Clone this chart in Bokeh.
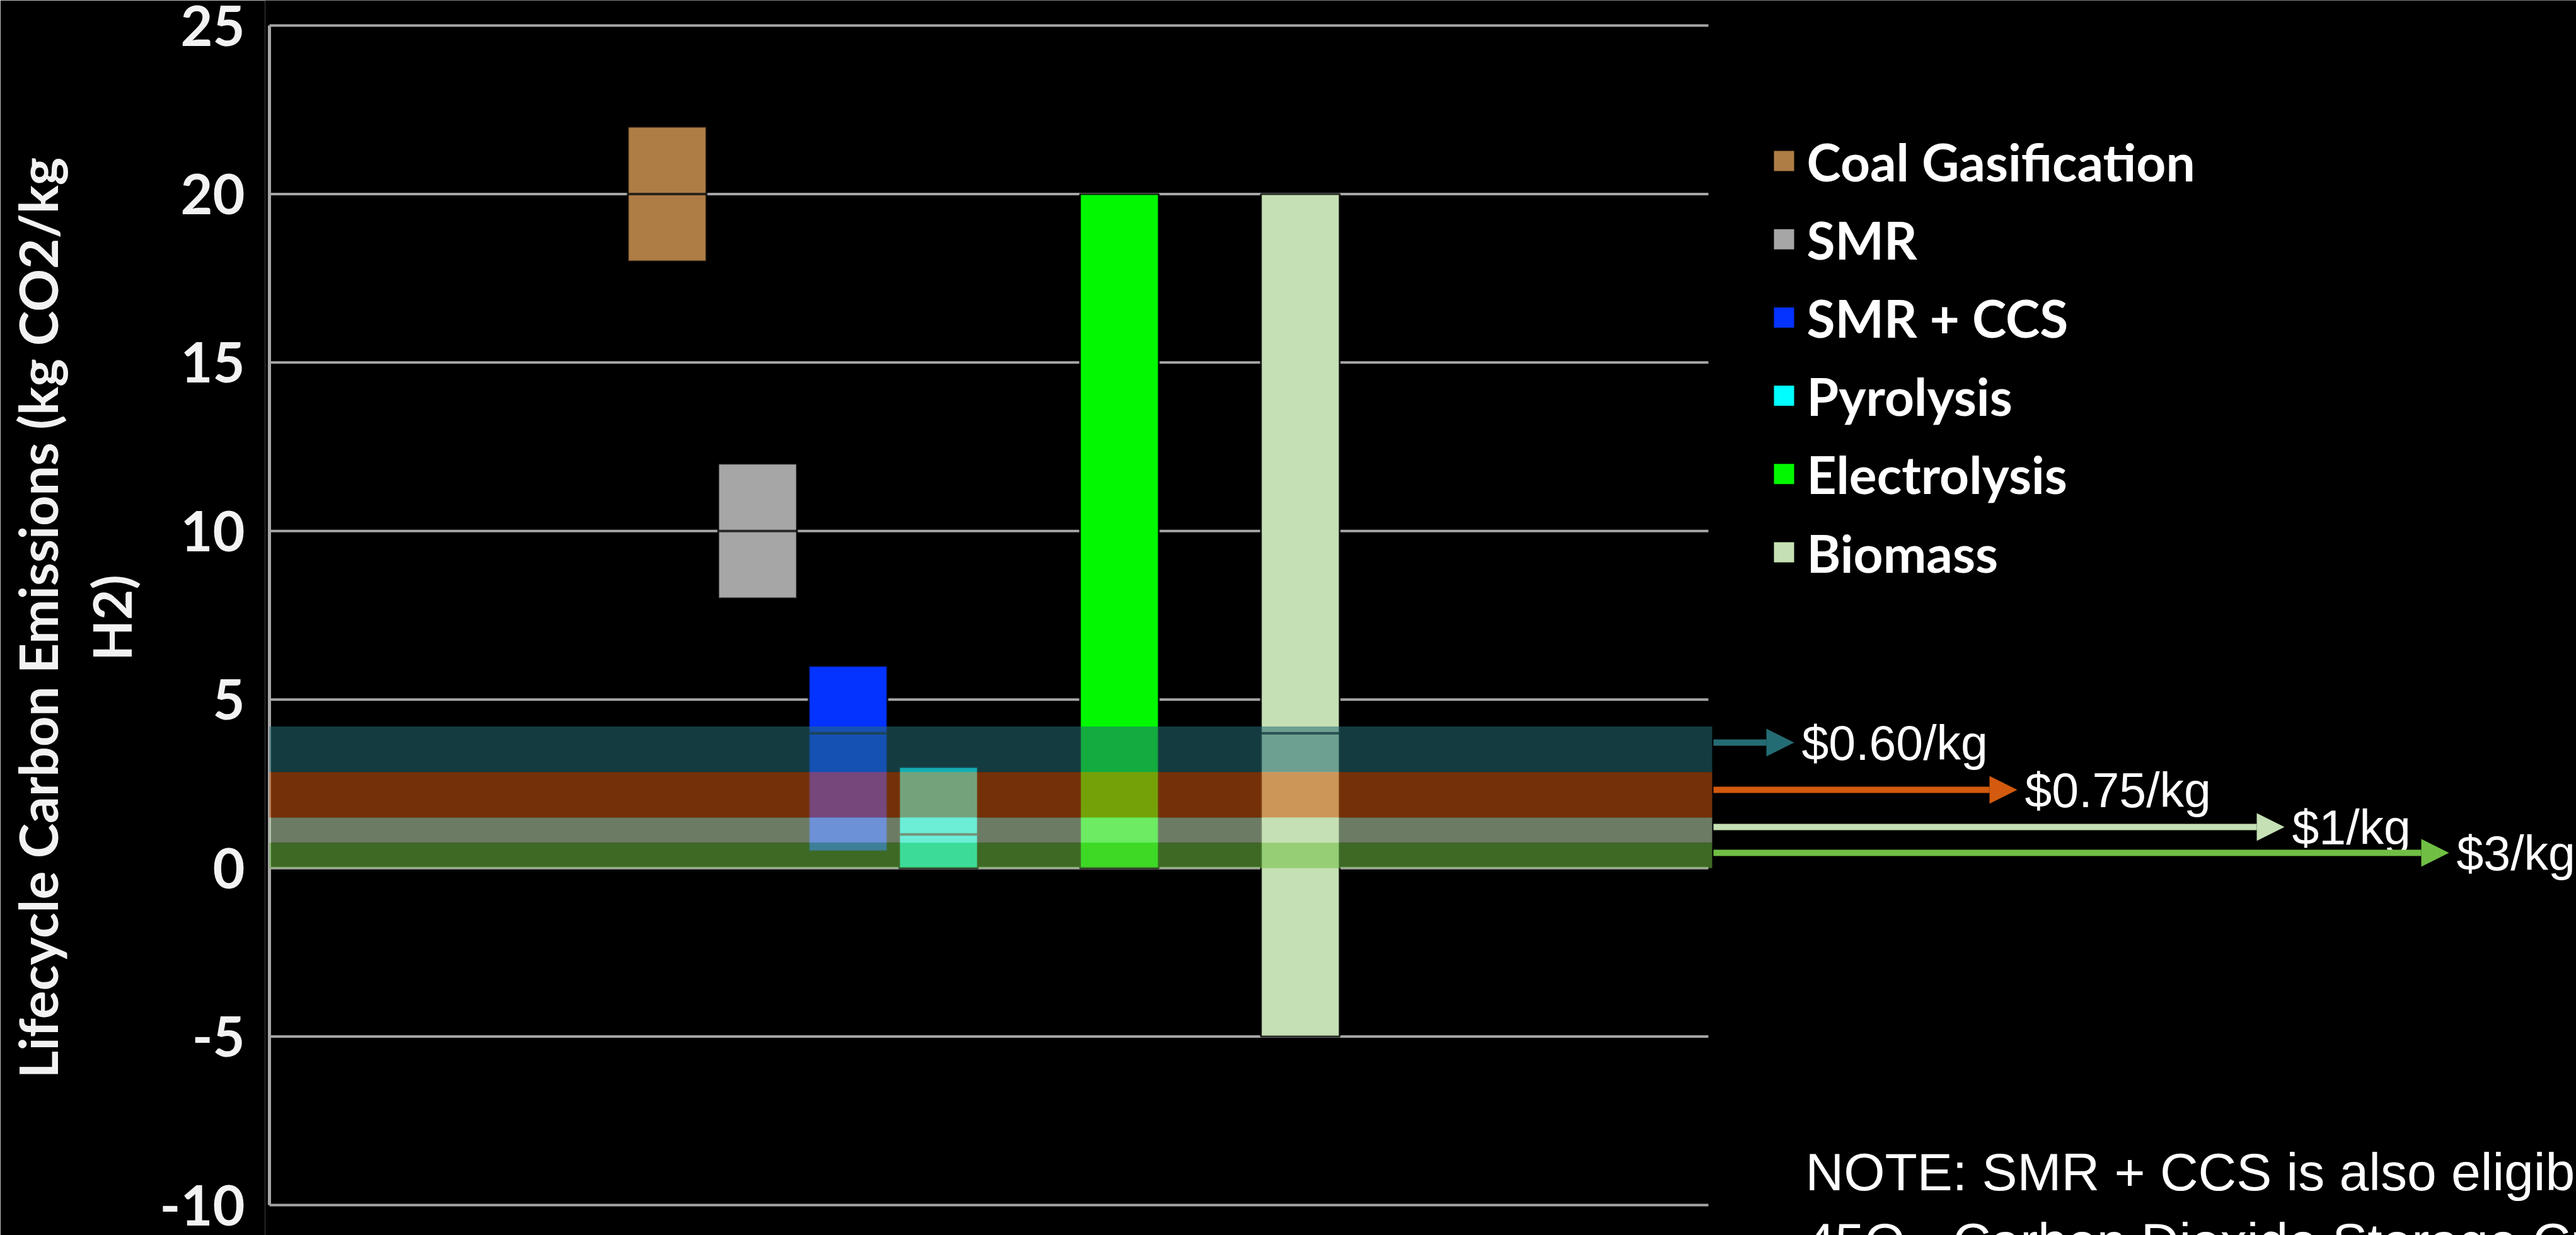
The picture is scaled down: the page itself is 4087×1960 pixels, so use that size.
import math
from bokeh.plotting import figure
from bokeh.models import Range1d, FixedTicker, Arrow, NormalHead
from bokeh.core.properties import value
from bokeh.embed import file_html
from bokeh.resources import INLINE

# ---------------- data ----------------
methods = ["Coal Gasification", "SMR", "SMR + CCS", "Pyrolysis", "Electrolysis", "Biomass"]
low = [18, 8, 0.5, 0, 0, -5]
mid = [20, 10, 4, 1, float("nan"), 4]
high = [22, 12, 6, 3, 20, 20]
slots = [1, 2, 3, 4, 6, 8]
colors = ["#AD7D45", "#A6A6A6", "#0432FF", "#00FDFF", "#00F900", "#C5E0B4"]

credit_labels = ["$0.60/kg", "$0.75/kg", "$1/kg", "$3/kg"]
tier_low = [2.85, 1.5, 0.75, 0.0]
tier_high = [4.2, 2.85, 1.5, 0.75]
tier_colors = ["#246C74", "#D35A0E", "#C5E0B4", "#70BF44"]

y_ticks = [-10, -5, 0, 5, 10, 15, 20, 25]
y_title = "Lifecycle Carbon Emissions (kg CO2/kg\nH2)"
note = "NOTE: SMR + CCS is also eligible for\n45Q - Carbon Dioxide Storage Credit"

# ---------------- layout ----------------
W, H = 4087, 1960
FRAME_LEFT = 420
SLOT_PX = 143.5
SLOT0_PX = 914.5
TOP_PX, BOTTOM_PX = 40, 1912
UNIT_PX = (BOTTOM_PX - TOP_PX) / (max(y_ticks) - min(y_ticks))


def xd(px):
    return (px - SLOT0_PX) / SLOT_PX


def yd(py):
    return max(y_ticks) - (py - TOP_PX) / UNIT_PX


AX_X = xd(427)
GRID_END = xd(2710)
BAND_END = xd(2716)
BAR_W = 0.87

arrow_y = [yd(1178), yd(1253), yd(1312), yd(1353)]
arrow_tip = [xd(2846), xd(3200), xd(3624), xd(3885)]
arrow_start = xd(2718)

legend_x_sq = xd(2830)
legend_x_txt = xd(2866)
legend_top_py = 255
legend_step_py = 124.2

p = figure(
    width=W, height=H,
    x_range=Range1d(xd(FRAME_LEFT), xd(W)),
    y_range=Range1d(yd(H), yd(0)),
    x_axis_location=None,
    y_axis_location="left",
    toolbar_location=None,
    output_backend="svg",
    min_border_left=FRAME_LEFT, min_border_right=0,
    min_border_top=0, min_border_bottom=0,
    background_fill_color="black", border_fill_color="black",
    outline_line_color=None,
)
p.grid.visible = False

# y axis
ax = p.yaxis[0]
ax.ticker = FixedTicker(ticks=y_ticks)
ax.major_label_overrides = {t: ("-" + str(abs(t)) if t < 0 else str(t)) for t in y_ticks}
ax.axis_line_color = None
ax.major_tick_line_color = None
ax.minor_tick_line_color = None
ax.major_tick_out = 0
ax.major_tick_in = 0
ax.major_label_standoff = 32
ax.major_label_text_font = "Lato"
ax.major_label_text_font_style = "bold"
ax.major_label_text_font_size = "88px"
ax.major_label_text_color = "#F2F2F2"
ax.axis_label = y_title
ax.axis_label_text_font = "Lato"
ax.axis_label_text_font_style = "bold"
ax.axis_label_text_font_size = "84px"
ax.axis_label_text_line_height = 1.15
ax.axis_label_text_color = "#F2F2F2"
ax.axis_label_standoff = 24

# grid lines (only across the plot area)
n = len(y_ticks)
p.segment(x0=[AX_X] * n, y0=y_ticks, x1=[GRID_END] * n, y1=y_ticks,
          line_color="#A6A6A6", line_width=4)
# axis line
p.segment(x0=[AX_X], y0=[min(y_ticks)], x1=[AX_X], y1=[max(y_ticks)],
          line_color="#A6A6A6", line_width=5)

# range bars
p.vbar(x=slots, width=BAR_W, bottom=low, top=high, fill_color=colors,
       line_color="black", line_width=3, line_alpha=0.8)

# split lines inside bars
mx = [s for s, m in zip(slots, mid) if not math.isnan(m)]
my = [m for m in mid if not math.isnan(m)]
p.segment(x0=[s - BAR_W / 2 for s in mx], y0=my, x1=[s + BAR_W / 2 for s in mx], y1=my,
          line_color="#141414", line_width=4, line_alpha=0.85)

# credit tier bands
p.quad(left=[AX_X] * 4, right=[BAND_END] * 4, bottom=tier_low, top=tier_high,
       fill_color=tier_colors, fill_alpha=0.55, line_color=None)

# arrows + labels
for c, yy, tip, lab in zip(tier_colors, arrow_y, arrow_tip, credit_labels):
    p.add_layout(Arrow(end=NormalHead(size=44, fill_color=c, line_color=c, line_width=0),
                       x_start=arrow_start, y_start=yy, x_end=tip, y_end=yy,
                       line_color=c, line_width=10))
p.text(x=[t + 12 / SLOT_PX for t in arrow_tip], y=arrow_y, text=credit_labels,
       text_font=value("Liberation Sans"), text_font_size="77px",
       text_color="white", text_baseline="middle", text_align="left")

# legend
ly = [yd(legend_top_py + i * legend_step_py) for i in range(len(methods))]
p.scatter(x=[legend_x_sq] * len(methods), y=ly, marker="square", size=32,
          fill_color=colors, line_color=None)
p.text(x=[legend_x_txt] * len(methods), y=ly, text=methods,
       text_font=value("Lato"), text_font_size="82px", text_font_style="bold",
       text_color="white", text_baseline="middle", text_align="left")

# note
p.text(x=[xd(2864)], y=[yd(1812)], text=[note],
       text_font=value("Liberation Sans"), text_font_size="84px",
       text_color="white", text_baseline="top", text_align="left",
       text_line_height=1.19)

open("out.html", "w").write(file_html(p, INLINE))
